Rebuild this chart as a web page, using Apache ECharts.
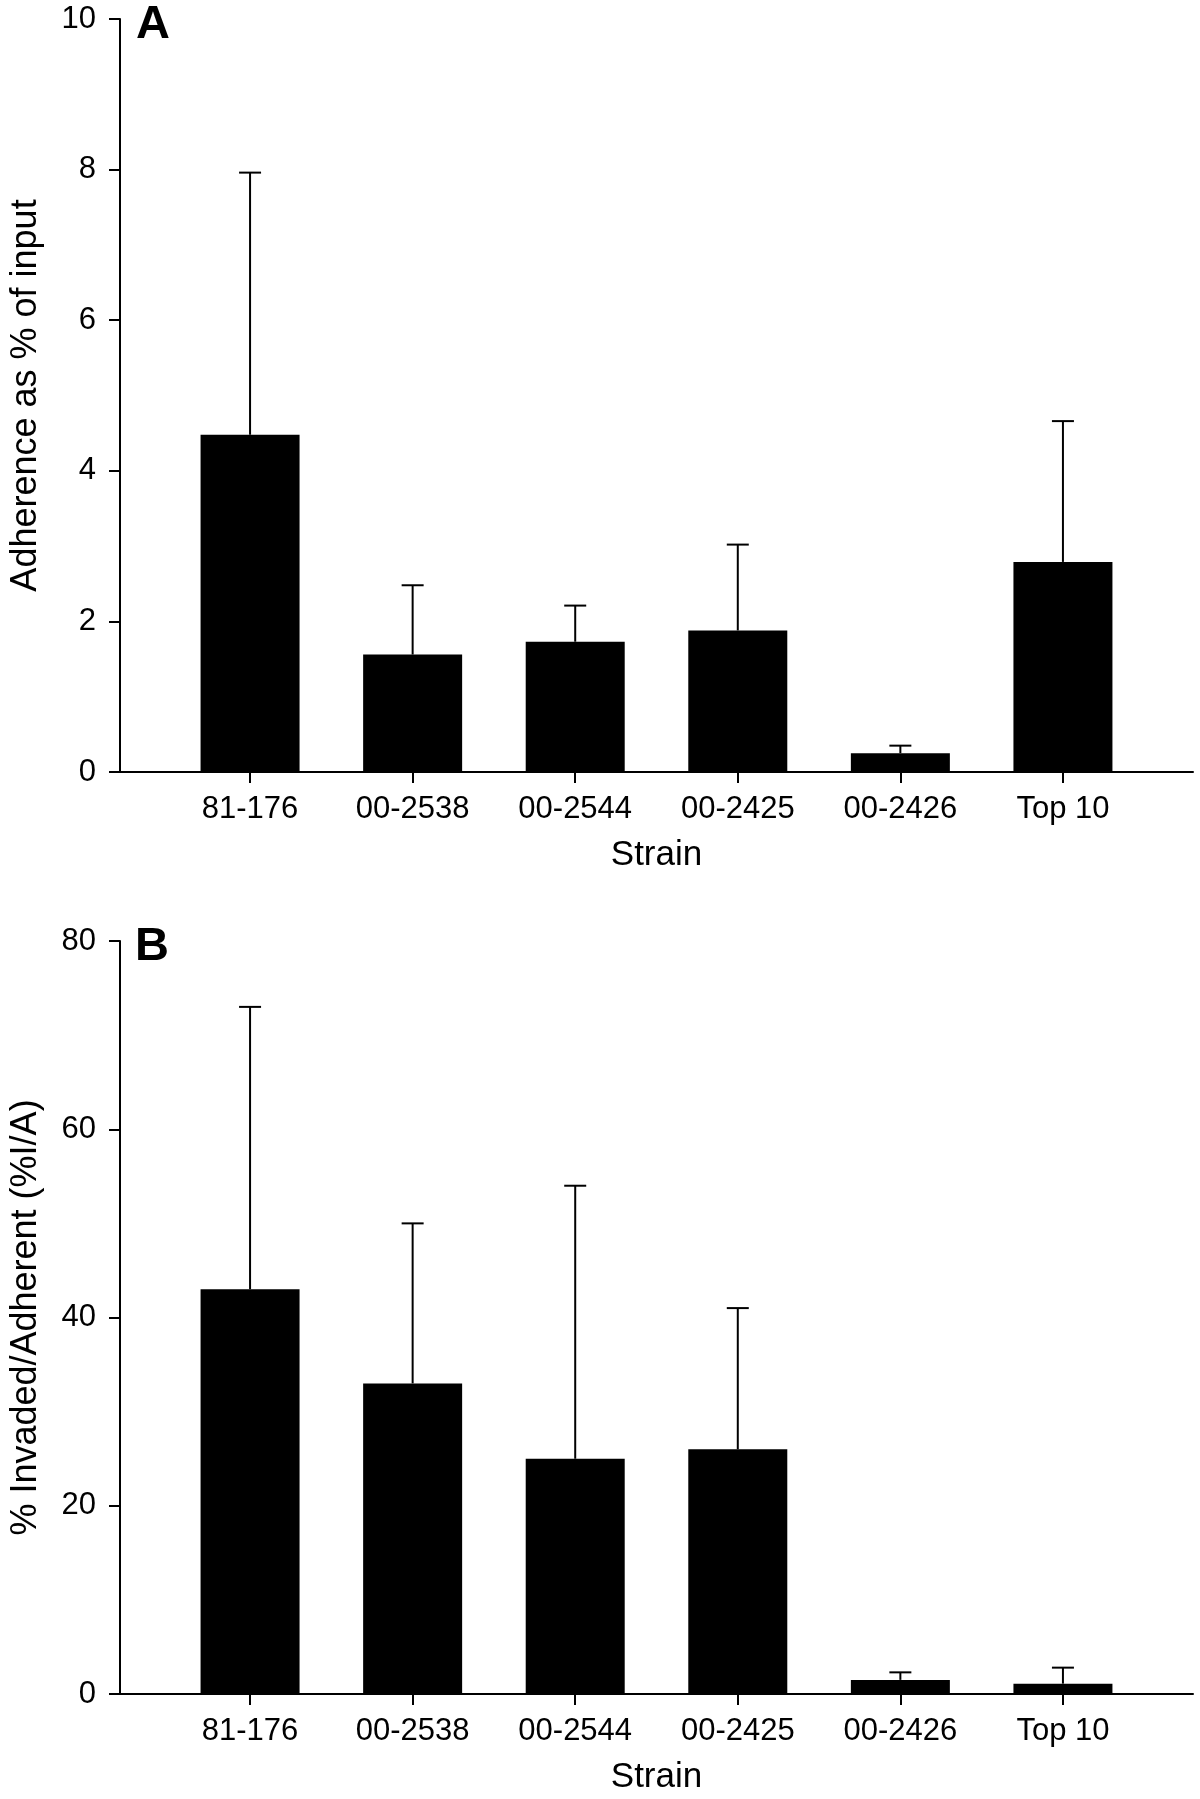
<!DOCTYPE html>
<html>
<head>
<meta charset="utf-8">
<style>
  html, body { margin: 0; padding: 0; background: #fff; }
  #chart { width: 1200px; height: 1799px; }
</style>
<script src="https://cdn.jsdelivr.net/npm/echarts@6/dist/echarts.min.js"></script>
</head>
<body>
<div id="chart"></div>
<script>
// ---- Data ----
const categories = ['81-176', '00-2538', '00-2544', '00-2425', '00-2426', 'Top 10'];
const adherence = [4.48, 1.56, 1.73, 1.88, 0.25, 2.79];
const adherenceErr = [3.48, 0.92, 0.48, 1.14, 0.10, 1.87];
const invasion = [43, 33, 25, 26, 1.5, 1.1];
const invasionErr = [30, 17, 29, 15, 0.8, 1.7];
const yTicksA = [0, 2, 4, 6, 8, 10];
const yTicksB = [0, 20, 40, 60, 80];

const FONT = "'Liberation Sans', Arial, sans-serif";
const positions = categories.map((c, i) => i + 1);

function barData(vals) { return vals.map((v, i) => [positions[i], v]); }
function errData(vals, errs) { return vals.map((v, i) => [positions[i], v, errs[i]]); }

function errRender(params, api) {
  const x = api.value(0), v = api.value(1), e = api.value(2);
  const base = api.coord([x, v]);
  const top = api.coord([x, v + e]);
  const style = { stroke: '#000', lineWidth: 2 };
  return {
    type: 'group',
    children: [
      { type: 'line', shape: { x1: base[0], y1: base[1], x2: top[0], y2: top[1] }, style: style },
      { type: 'line', shape: { x1: top[0] - 11, y1: top[1], x2: top[0] + 11, y2: top[1] }, style: style }
    ]
  };
}

function xAxisCfg(gridIndex) {
  return {
    gridIndex: gridIndex,
    type: 'value',
    min: 0.2,
    max: 6.8,
    name: 'Strain',
    nameLocation: 'middle',
    nameGap: 66,
    nameTextStyle: { fontFamily: FONT, fontSize: 35, color: '#000' },
    axisLine: { show: true, onZero: true, lineStyle: { color: '#000', width: 2 } },
    axisTick: { show: true, length: 11, inside: false, customValues: positions, lineStyle: { color: '#000', width: 2 } },
    axisLabel: {
      show: true, margin: 22, customValues: positions,
      fontFamily: FONT, fontSize: 31, color: '#000',
      formatter: function (v) { return categories[Math.round(v) - 1] || ''; }
    },
    splitLine: { show: false }
  };
}

function yAxisCfg(gridIndex, name, ticks) {
  return {
    gridIndex: gridIndex,
    type: 'value',
    min: ticks[0],
    max: ticks[ticks.length - 1],
    interval: ticks[1] - ticks[0],
    name: name,
    nameLocation: 'middle',
    nameGap: 76,
    nameTextStyle: { fontFamily: FONT, fontSize: 36, color: '#000' },
    axisLine: { show: true, lineStyle: { color: '#000', width: 2 } },
    axisTick: { show: true, length: 11, inside: false, lineStyle: { color: '#000', width: 2 } },
    axisLabel: { margin: 24, fontFamily: FONT, fontSize: 31, color: '#000' },
    splitLine: { show: false }
  };
}

const chart = echarts.init(document.getElementById('chart'), null, { renderer: 'canvas' });
chart.setOption({
  backgroundColor: '#fff',
  animation: false,
  title: [
    { text: 'A', left: 131, top: -3, textStyle: { fontFamily: FONT, fontSize: 47, fontWeight: 'bold', color: '#000' } },
    { text: 'B', left: 130, top: 919, textStyle: { fontFamily: FONT, fontSize: 47, fontWeight: 'bold', color: '#000' } }
  ],
  grid: [
    { left: 116, right: 7, top: 19, height: 753 },
    { left: 116, right: 7, top: 941, height: 753 }
  ],
  xAxis: [xAxisCfg(0), xAxisCfg(1)],
  yAxis: [
    yAxisCfg(0, 'Adherence as % of input', yTicksA),
    yAxisCfg(1, '% Invaded/Adherent (%I/A)', yTicksB)
  ],
  series: [
    { type: 'bar', xAxisIndex: 0, yAxisIndex: 0, data: barData(adherence), barWidth: 99,
      itemStyle: { color: '#000' }, z: 2 },
    { type: 'custom', xAxisIndex: 0, yAxisIndex: 0, data: errData(adherence, adherenceErr),
      renderItem: errRender, z: 3, clip: false },
    { type: 'bar', xAxisIndex: 1, yAxisIndex: 1, data: barData(invasion), barWidth: 99,
      itemStyle: { color: '#000' }, z: 2 },
    { type: 'custom', xAxisIndex: 1, yAxisIndex: 1, data: errData(invasion, invasionErr),
      renderItem: errRender, z: 3, clip: false }
  ]
});
</script>
</body>
</html>
